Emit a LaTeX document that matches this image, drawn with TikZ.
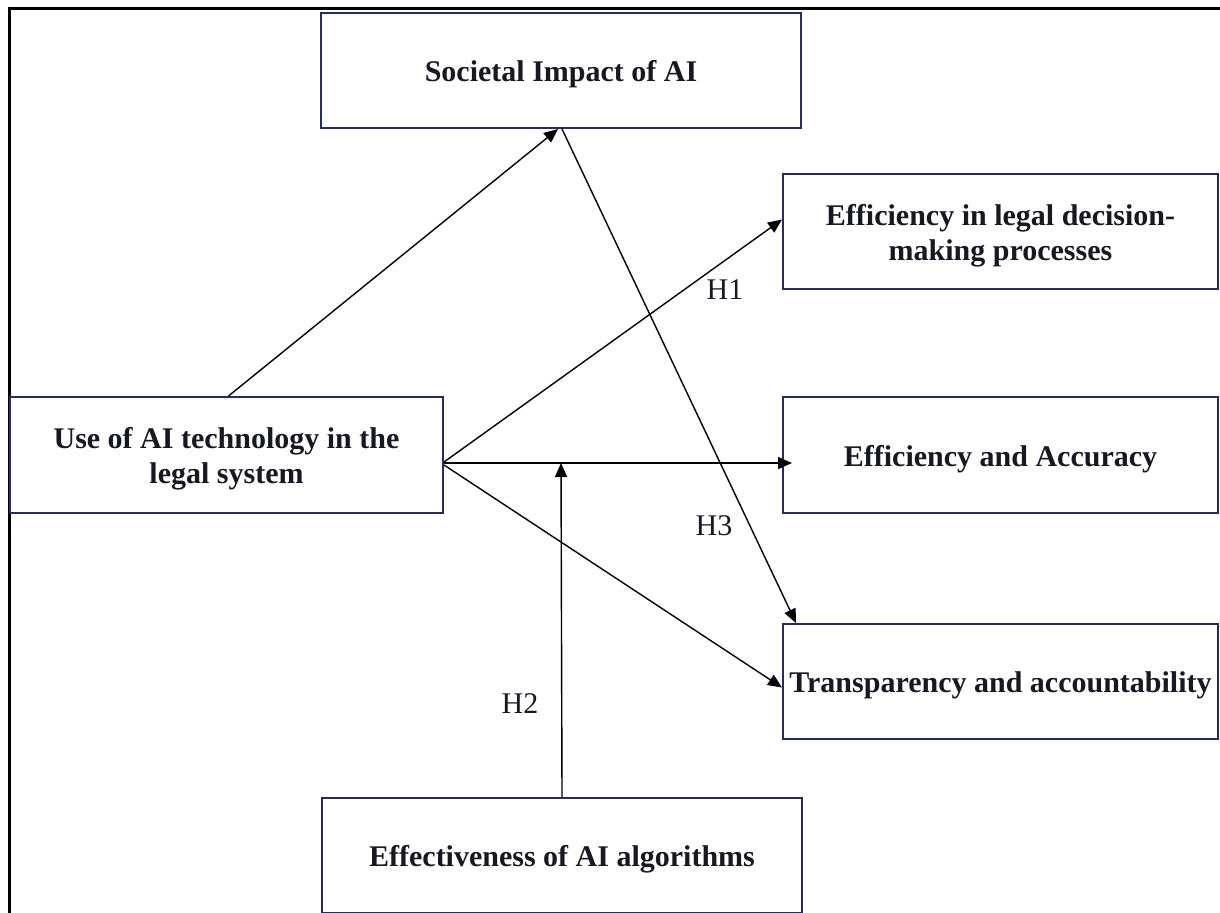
\documentclass[tikz,border=0pt]{standalone}
\usepackage{fontspec}
\setmainfont{Liberation Serif}
\usetikzlibrary{arrows.meta,calc}
\definecolor{boxline}{RGB}{40,44,92}
\definecolor{inkdark}{RGB}{24,24,36}
\newcommand{\lowered}[1]{\raisebox{-2pt}[\height][\depth]{#1}}
\begin{document}
\begin{tikzpicture}[x=0.5pt,y=-0.5pt,
  concept/.style={draw=boxline,line width=1pt,fill=white,rectangle,inner sep=0pt,
    align=center,text=inkdark,font=\bfseries\fontsize{15}{17.5}\selectfont},
  link/.style={draw=black,line width=0.7pt,-{Triangle[length=7pt,width=6pt]}},
  hyp/.style={text=inkdark,font=\fontsize{15}{17}\selectfont,inner sep=0pt}]
\useasboundingbox (0,0) rectangle (1220,912);
% outer frame (left and top)
\draw[line width=1.5pt,line cap=rect] (9,912) -- (9,8) -- (1220,8);
% constructs
\node[concept,minimum width=240pt,minimum height=57.5pt] (soc) at (561,70.5) {\lowered{Societal Impact of AI}};
\node[concept,minimum width=217.5pt,minimum height=57.5pt] (el) at (1000.5,231.5) {\lowered{Efficiency in legal decision-}\\\lowered{making processes}};
\node[concept,minimum width=216.5pt,minimum height=58pt] (use) at (226.5,455) {\lowered{Use of AI technology in the}\\\lowered{legal system}};
\node[concept,minimum width=217.5pt,minimum height=58pt] (ea) at (1000.5,455) {\lowered{Efficiency and Accuracy}};
\node[concept,minimum width=217.5pt,minimum height=57.5pt] (tr) at (1000.5,681.5) {\lowered{Transparency and accountability}};
\node[concept,minimum width=240pt,minimum height=57.5pt] (eff) at (562,855.5) {\lowered{Effectiveness of AI algorithms}};
% moderator joins the main path here
\coordinate (j) at (561,463);
% paths
\draw[link] ([xshift=1pt]use.north) -- ([xshift=-1.5pt]soc.south);
\draw[link] ([xshift=0.5pt]soc.south) -- ([xshift=7pt]tr.north west);
\draw[link] ([yshift=-3.5pt]use.east) -- ([yshift=6pt]el.west);
\draw[link] ([yshift=-4pt]use.east) -- ([xshift=5pt,yshift=-4pt]ea.west);
\draw[link] ([yshift=-5pt]use.east) -- ([yshift=-3pt]tr.west);
\draw[link] (eff.north) -- (j);
% hypothesis labels
\node[hyp] (h1) at (725,290) {H1};
\node[hyp] (h3) at (714,526) {H3};
\node[hyp] (h2) at (520,704) {H2};
\end{tikzpicture}
\end{document}
